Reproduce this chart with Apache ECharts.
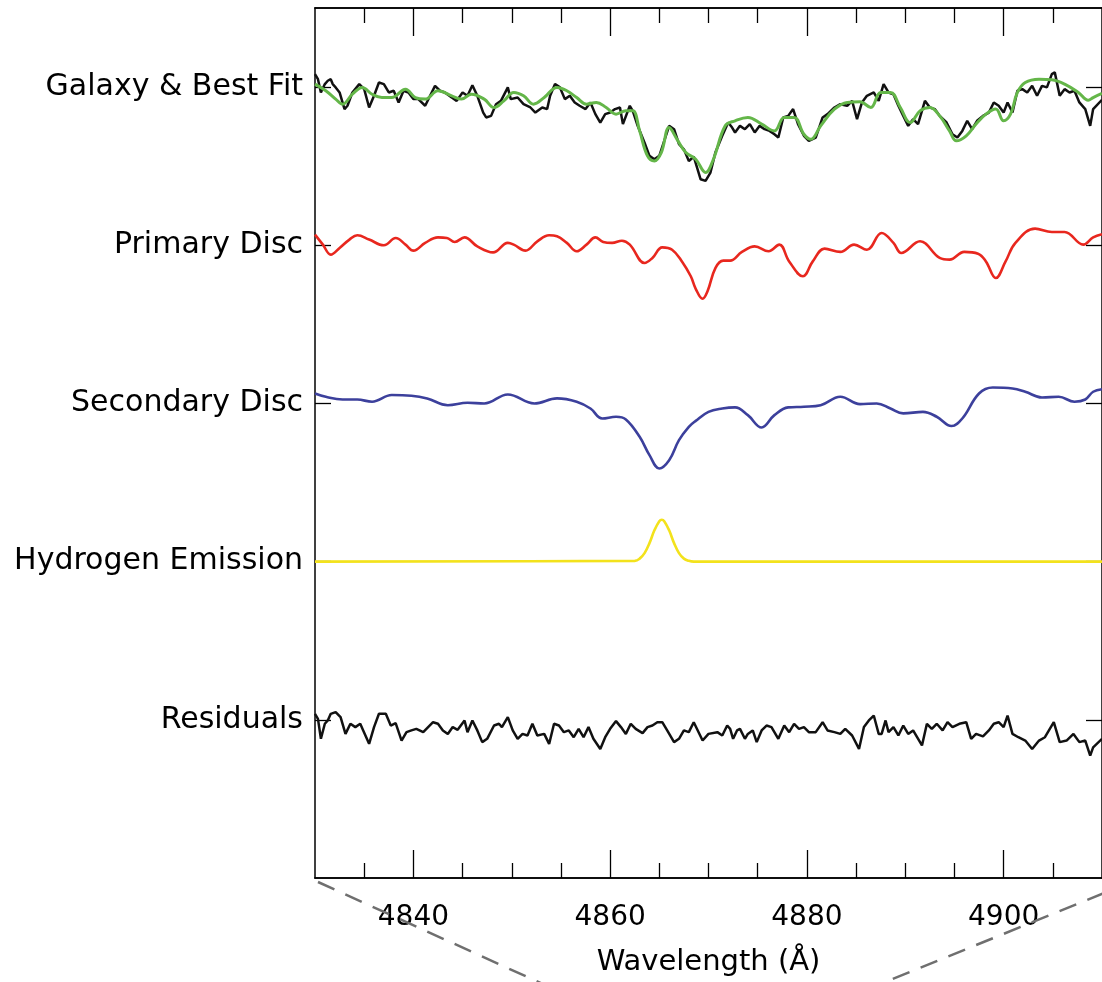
<!DOCTYPE html>
<html><head><meta charset="utf-8">
<script src="https://cdn.jsdelivr.net/npm/echarts@6/dist/echarts.min.js"></script>
<style>html,body{margin:0;padding:0;background:#fff}#c{width:1102px;height:982px}</style>
</head><body><div id="c"></div>
<script>
// Panel labels (y axis) and their offsets
const panelLabels = ['Residuals', 'Hydrogen Emission', 'Secondary Disc', 'Primary Disc', 'Galaxy & Best Fit'];
const panelOffsets = [100, 200, 300, 400, 500];
// x axis ticks (Angstrom)
const xMajorTicks = [4840, 4860, 4880, 4900];
const xMinorTicks = [4835, 4845, 4850, 4855, 4865, 4870, 4875, 4885, 4890, 4895, 4905];

// [wavelength, relative flux offset] pairs
const galaxy = [[4830.0,8.2],[4830.3,5.0],[4830.6,-3.4],[4831.0,1.9],[4831.3,4.0],[4831.6,5.0],[4831.8,1.9],[4832.1,-0.2],[4832.5,-3.4],[4833.0,-13.9],[4833.3,-11.8],[4833.8,-3.4],[4834.5,1.9],[4835.0,-1.3],[4835.5,-12.9],[4836.0,-5.5],[4836.5,2.9],[4837.0,1.9],[4837.5,-3.4],[4838.0,-2.3],[4838.5,-9.7],[4839.0,-2.3],[4839.5,-3.4],[4840.0,-7.6],[4840.5,-7.6],[4841.2,-11.8],[4841.7,-5.5],[4842.2,0.8],[4842.7,-2.3],[4843.2,-3.4],[4843.9,-6.6],[4844.4,-8.7],[4845.0,-3.4],[4845.5,-5.5],[4846.0,1.2],[4846.5,-5.5],[4847.1,-16.1],[4847.4,-19.2],[4847.9,-18.2],[4848.4,-10.8],[4848.9,-8.7],[4849.6,-0.2],[4849.9,-7.6],[4850.6,-6.6],[4851.2,-10.8],[4851.9,-12.9],[4852.4,-16.1],[4853.1,-12.9],[4853.6,-13.9],[4853.9,-5.5],[4854.4,1.9],[4854.9,-0.2],[4855.4,-7.6],[4855.9,-5.5],[4856.4,-9.7],[4856.9,-11.8],[4857.5,-13.9],[4858.0,-9.7],[4858.5,-17.1],[4859.0,-22.4],[4859.5,-17.1],[4860.0,-16.1],[4860.5,-13.9],[4861.0,-12.9],[4861.3,-23.4],[4862.0,-11.8],[4862.3,-15.0],[4862.8,-24.5],[4863.5,-35.1],[4864.0,-43.5],[4864.5,-45.6],[4865.0,-43.5],[4865.5,-34.0],[4866.0,-24.5],[4866.5,-26.6],[4867.0,-36.1],[4867.5,-39.3],[4868.0,-46.7],[4868.5,-44.0],[4869.2,-58.3],[4869.7,-59.3],[4870.2,-54.0],[4870.7,-41.4],[4871.4,-30.8],[4872.0,-22.4],[4872.4,-25.6],[4872.7,-28.7],[4873.2,-24.5],[4873.7,-26.6],[4874.2,-23.4],[4874.7,-28.7],[4875.2,-24.5],[4875.7,-26.6],[4876.2,-27.7],[4876.7,-29.8],[4877.1,-31.9],[4877.6,-19.2],[4878.1,-18.2],[4878.6,-13.9],[4879.1,-23.4],[4879.7,-30.8],[4880.2,-34.0],[4880.9,-31.9],[4881.6,-19.2],[4882.1,-17.1],[4882.8,-12.9],[4883.4,-10.8],[4884.1,-11.8],[4884.6,-8.7],[4885.1,-20.3],[4885.6,-9.7],[4886.1,-5.5],[4886.8,-3.4],[4887.3,-8.7],[4887.8,1.9],[4888.3,-3.4],[4888.8,-4.5],[4889.3,-11.8],[4889.8,-18.2],[4890.3,-24.5],[4890.8,-20.3],[4891.3,-23.4],[4892.0,-8.7],[4892.5,-12.9],[4893.0,-13.9],[4893.5,-18.2],[4894.2,-22.4],[4894.8,-29.8],[4895.3,-31.9],[4895.8,-27.7],[4896.3,-21.3],[4896.8,-26.6],[4897.3,-21.3],[4897.9,-18.2],[4898.5,-16.1],[4899.0,-9.7],[4899.5,-11.8],[4900.0,-16.1],[4900.4,-9.7],[4900.9,-16.1],[4901.4,-2.3],[4901.9,-1.3],[4902.4,-3.4],[4902.9,0.8],[4903.4,-5.5],[4903.9,0.8],[4904.4,-0.2],[4904.9,8.2],[4905.2,9.3],[4905.7,-5.5],[4906.2,-1.3],[4906.7,-3.4],[4907.2,-2.3],[4907.7,-9.7],[4908.3,-13.9],[4908.8,-24.5],[4909.1,-13.9],[4910.0,-8.0]];

const bestFit = [[4830.0,1.9],[4831.1,-2.3],[4832.1,-7.6],[4832.8,-10.8],[4833.8,-4.5],[4834.8,-0.2],[4835.8,-4.5],[4836.8,-6.6],[4837.8,-6.6],[4839.2,-1.3],[4840.2,-6.6],[4841.2,-7.6],[4842.5,-2.3],[4843.9,-5.5],[4844.9,-7.6],[4845.9,-4.5],[4847.2,-7.6],[4848.2,-12.9],[4849.2,-8.7],[4850.2,-3.4],[4851.2,-5.5],[4852.2,-10.8],[4853.3,-6.6],[4854.6,-0.2],[4855.6,-2.3],[4856.6,-6.6],[4857.6,-10.8],[4858.6,-9.7],[4859.6,-12.9],[4860.6,-17.1],[4861.6,-15.0],[4862.3,-15.0],[4863.0,-27.7],[4863.8,-43.5],[4864.5,-46.7],[4865.2,-41.4],[4866.0,-25.6],[4866.8,-33.0],[4867.7,-41.4],[4868.7,-45.6],[4869.7,-54.0],[4870.5,-45.6],[4871.7,-24.5],[4872.7,-21.3],[4874.0,-19.2],[4875.4,-23.4],[4876.7,-27.7],[4877.7,-19.2],[4878.7,-19.2],[4879.7,-29.8],[4880.4,-33.0],[4881.4,-24.5],[4882.8,-14.0],[4884.1,-9.7],[4885.4,-9.3],[4886.5,-12.9],[4887.5,-3.4],[4888.5,-3.4],[4889.5,-12.9],[4890.5,-22.4],[4891.5,-15.0],[4892.5,-12.9],[4893.5,-18.2],[4894.5,-27.7],[4895.2,-34.0],[4896.2,-30.8],[4897.2,-23.4],[4898.2,-17.1],[4899.2,-13.9],[4900.0,-21.3],[4900.7,-17.1],[4901.4,-3.4],[4902.2,2.9],[4903.6,5.0],[4904.9,4.6],[4906.2,1.9],[4907.6,-3.4],[4908.6,-8.3],[4909.1,-6.6],[4910.0,-4.0]];

const primaryDisc = [[4830.0,6.7],[4830.8,0.4],[4831.6,-5.9],[4832.5,-1.7],[4833.5,3.6],[4834.3,6.3],[4835.5,3.6],[4837.0,0.0],[4838.2,4.6],[4839.2,0.4],[4840.0,-3.4],[4841.2,1.5],[4842.5,5.0],[4843.4,4.6],[4844.2,2.1],[4845.2,5.0],[4846.5,-0.7],[4848.1,-4.5],[4849.6,1.5],[4850.2,0.4],[4851.4,-3.4],[4852.6,2.5],[4853.8,6.3],[4854.6,5.7],[4855.6,1.5],[4856.6,-3.8],[4857.6,0.4],[4858.5,5.0],[4859.3,2.1],[4860.2,1.5],[4861.2,2.9],[4862.0,0.4],[4863.5,-11.2],[4864.3,-8.0],[4865.3,-1.3],[4866.3,-2.8],[4867.3,-10.2],[4868.2,-19.6],[4868.7,-27.5],[4869.4,-33.8],[4869.9,-29.1],[4870.7,-14.4],[4871.5,-9.7],[4872.2,-9.7],[4873.4,-4.2],[4874.7,-0.7],[4876.1,-3.8],[4877.2,0.4],[4878.2,-10.2],[4879.6,-19.6],[4880.6,-10.2],[4881.8,-2.1],[4883.4,-4.2],[4884.8,0.4],[4886.1,-2.8],[4887.6,7.8],[4888.8,1.5],[4889.6,-4.9],[4891.5,2.5],[4893.5,-8.0],[4894.5,-9.1],[4896.0,-4.2],[4897.4,-5.3],[4898.2,-10.2],[4899.2,-20.7],[4900.2,-10.2],[4901.2,1.5],[4903.2,10.5],[4904.9,8.4],[4906.2,8.4],[4908.1,0.4],[4909.1,5.0],[4910.0,7.0]];

const secondaryDisc = [[4830.0,6.3],[4831.1,4.2],[4832.8,2.5],[4834.3,2.5],[4835.8,1.1],[4837.8,5.3],[4839.8,4.9],[4841.4,3.2],[4843.5,-1.1],[4845.5,0.4],[4847.2,0.0],[4849.6,5.7],[4852.3,0.0],[4854.6,3.2],[4856.6,1.1],[4858.0,-3.2],[4859.2,-9.5],[4860.6,-8.4],[4861.6,-10.1],[4863.0,-21.1],[4864.0,-32.7],[4865.0,-41.1],[4866.0,-35.9],[4867.0,-23.2],[4868.0,-14.8],[4868.7,-11.0],[4870.0,-5.3],[4871.4,-3.2],[4872.7,-2.5],[4874.0,-7.4],[4875.4,-15.2],[4876.7,-7.4],[4878.1,-2.5],[4879.7,-2.1],[4881.4,-1.1],[4883.4,4.2],[4885.4,-0.4],[4887.1,0.0],[4888.5,-3.2],[4889.8,-6.3],[4891.8,-5.3],[4893.2,-8.4],[4894.7,-14.3],[4895.8,-9.5],[4897.5,6.3],[4898.9,10.1],[4900.9,9.5],[4902.2,7.4],[4903.9,3.8],[4905.6,4.2],[4907.2,1.1],[4908.3,2.5],[4909.1,7.4],[4910.0,9.0]];

const hydrogenEmission = [[4830.0,0],[4862.5,0.5],[4863.0,1.9],[4863.5,5.4],[4864.0,11.7],[4864.5,19.8],[4865.0,25.6],[4865.25,26.5],[4865.5,25.6],[4866.0,19.8],[4866.5,11.7],[4867.0,5.4],[4867.5,1.9],[4868.0,0.5],[4868.5,0],[4910.0,0]];

const residuals = [[4830.0,3.8],[4830.3,0.6],[4830.6,-12.0],[4831.0,-2.5],[4831.3,-0.4],[4831.6,3.8],[4832.1,4.9],[4832.6,1.7],[4833.1,-8.9],[4833.6,-2.5],[4834.1,-4.6],[4834.6,-2.5],[4834.9,-6.7],[4835.5,-15.2],[4836.0,-4.6],[4836.5,3.8],[4837.2,3.8],[4837.7,-3.6],[4838.2,-2.1],[4838.8,-13.1],[4839.3,-7.8],[4839.8,-6.7],[4840.3,-5.7],[4841.0,-7.8],[4841.5,-4.6],[4842.0,-1.5],[4842.5,-2.5],[4843.0,-6.7],[4843.5,-8.9],[4844.0,-4.6],[4844.5,-6.3],[4845.2,-0.4],[4845.5,-7.8],[4846.0,-0.4],[4846.5,-6.7],[4847.0,-14.1],[4847.5,-12.0],[4848.2,-3.6],[4848.7,-2.5],[4849.0,-4.6],[4849.6,1.7],[4850.1,-6.7],[4850.6,-12.0],[4851.1,-8.9],[4851.6,-9.9],[4852.1,-2.5],[4852.6,-9.9],[4853.3,-8.9],[4853.8,-15.2],[4854.3,-2.5],[4854.8,-3.6],[4855.3,-7.8],[4855.8,-6.7],[4856.3,-11.0],[4856.8,-5.7],[4857.3,-11.0],[4857.8,-4.6],[4858.3,-12.0],[4859.0,-18.4],[4859.5,-11.0],[4860.0,-5.7],[4860.6,-0.8],[4861.1,-4.6],[4861.6,-8.9],[4862.1,-2.5],[4862.6,-5.7],[4863.3,-8.4],[4863.8,-4.6],[4864.3,-3.6],[4864.8,-1.5],[4865.3,-1.5],[4865.8,-6.7],[4866.5,-14.1],[4867.0,-12.0],[4867.5,-6.7],[4868.0,-7.8],[4868.5,-1.5],[4869.4,-13.1],[4870.0,-8.9],[4870.9,-7.8],[4871.4,-9.9],[4871.9,-3.6],[4872.2,-5.7],[4872.5,-12.0],[4872.9,-6.7],[4873.2,-5.7],[4873.7,-12.0],[4874.0,-8.9],[4874.5,-6.7],[4874.9,-14.1],[4875.4,-6.7],[4875.9,-3.6],[4876.4,-4.6],[4877.1,-12.0],[4877.7,-3.6],[4878.2,-7.8],[4878.7,-2.5],[4879.2,-5.7],[4879.7,-4.6],[4880.2,-7.8],[4880.9,-7.8],[4881.6,-1.5],[4882.1,-6.7],[4882.8,-7.8],[4883.4,-8.9],[4883.9,-5.7],[4884.6,-9.9],[4885.3,-18.4],[4885.8,-4.6],[4886.3,-0.4],[4886.8,2.7],[4887.3,-8.9],[4887.6,-8.9],[4888.0,-0.4],[4888.3,-7.8],[4888.8,-4.6],[4889.3,-9.9],[4889.8,-3.6],[4890.3,-8.9],[4890.8,-6.7],[4891.7,-16.2],[4892.2,-2.5],[4892.7,-5.7],[4893.2,-2.5],[4893.8,-6.7],[4894.3,-1.5],[4894.8,-4.6],[4895.5,-2.5],[4896.2,-1.5],[4896.7,-12.0],[4897.2,-8.9],[4897.9,-10.5],[4898.5,-6.7],[4899.0,-2.5],[4899.5,-1.5],[4900.0,-4.6],[4900.4,2.7],[4900.9,-8.9],[4901.5,-11.0],[4902.2,-13.1],[4902.9,-18.4],[4903.6,-13.1],[4904.2,-11.0],[4905.1,-1.5],[4905.7,-14.1],[4906.4,-13.1],[4907.1,-8.9],[4907.7,-14.1],[4908.3,-13.1],[4908.8,-22.6],[4909.1,-17.4],[4910.0,-12.0]];

const FONT = 'DejaVu Sans';
function shift(arr, off) { return arr.map(p => [p[0], off + p[1]]); }

const chart = echarts.init(document.getElementById('c'), null, { renderer: 'canvas' });

const axLine = { show: true, lineStyle: { color: '#000', width: 1.5 } };
function xAx(pos, ticks, len, labels) {
  return {
    type: 'value', min: 4830, max: 4910, position: pos,
    axisLine: axLine, splitLine: { show: false },
    axisTick: { show: true, inside: true, length: len, customValues: ticks, lineStyle: { color: '#000', width: 1.3 } },
    axisLabel: labels ? { show: true, customValues: xMajorTicks, margin: 26, fontSize: 28, fontFamily: FONT, color: '#000',
      formatter: v => String(v) } : { show: false }
  };
}
const xAxes = [xAx('bottom', xMajorTicks, 28, true), xAx('bottom', xMinorTicks, 15, false), xAx('top', xMajorTicks, 28, false), xAx('top', xMinorTicks, 15, false)];
xAxes[0].name = 'Wavelength (Å)';
xAxes[0].nameLocation = 'middle';
xAxes[0].nameGap = 70;
xAxes[0].nameTextStyle = { fontSize: 29, fontFamily: FONT, color: '#000' };

function yAx(pos, labels) {
  return {
    type: 'value', min: 0, max: 550, position: pos,
    axisLine: axLine, splitLine: { show: false },
    axisTick: { show: true, inside: true, length: 16, customValues: panelOffsets, lineStyle: { color: '#000', width: 1.3 } },
    axisLabel: labels ? { show: true, customValues: panelOffsets, margin: 12, fontSize: 30, fontFamily: FONT, color: '#000',
      formatter: v => panelLabels[panelOffsets.indexOf(Math.round(v))] || '' } : { show: false }
  };
}

function line(name, data, color, width, smooth, z) {
  return { name, type: 'line', data, xAxisIndex: 0, yAxisIndex: 0, showSymbol: false, symbol: 'none',
    smooth, lineStyle: { color, width }, z, animation: false, clip: true };
}

chart.setOption({
  animation: false,
  backgroundColor: '#fff',
  grid: { left: 315, top: 8, width: 795, height: 870 },
  xAxis: xAxes,
  yAxis: [yAx('left', true), yAx('right', false)],
  series: [
    line('Galaxy', shift(galaxy, 500), '#111', 2.5, false, 2),
    line('Best Fit', shift(bestFit, 500), '#64b649', 3, 0.4, 3),
    line('Primary Disc', shift(primaryDisc, 400), '#e8271e', 2.6, 0.4, 2),
    line('Secondary Disc', shift(secondaryDisc, 300), '#3c409c', 2.6, 0.4, 2),
    line('Hydrogen Emission', shift(hydrogenEmission, 200), '#f3e21c', 2.6, 0.4, 2),
    line('Residuals', shift(residuals, 100), '#111', 2.5, false, 2)
  ],
  graphic: [
    { type: 'line', z: 10, shape: { x1: 318, y1: 882, x2: 545, y2: 985 }, style: { stroke: '#6f6f6f', lineWidth: 2.5, lineDash: [18, 12] } },
    { type: 'line', z: 10, shape: { x1: 1104, y1: 893, x2: 878, y2: 985 }, style: { stroke: '#6f6f6f', lineWidth: 2.5, lineDash: [18, 12] } }
  ]
});
</script>
</body></html>
